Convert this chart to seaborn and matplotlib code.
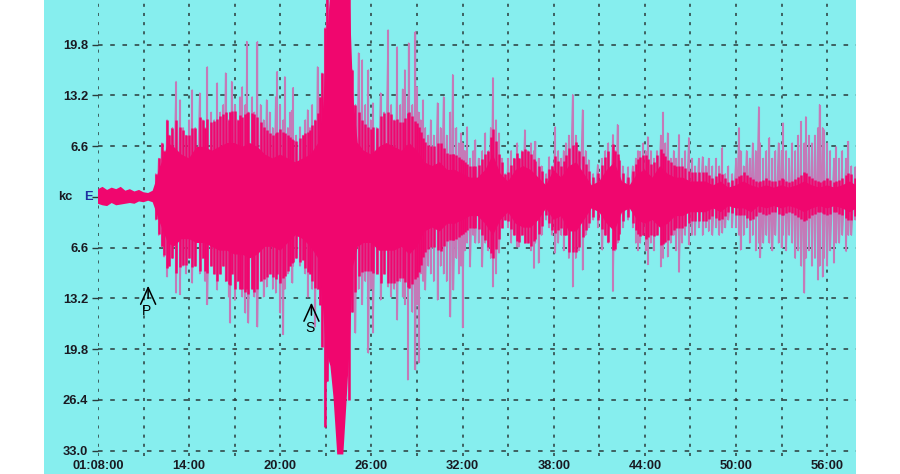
import matplotlib
matplotlib.use("Agg")
import matplotlib.pyplot as plt
import numpy as np
import pandas as pd
import seaborn as sns

# ---------------- data (minutes after 01:00:00, amplitude in kc) ----------------
core_t = [8.0, 8.3, 8.6, 8.9, 9.2, 9.5, 9.8, 10.1, 10.4, 10.7, 11.0, 11.3, 11.6, 11.8, 12.0,
          12.3, 12.6, 13.0, 13.5, 14.0, 14.5, 15.0, 15.5, 16.0, 16.5, 17.0, 17.5, 18.0, 18.5,
          19.0, 19.5, 20.0, 20.5, 21.0, 21.5, 22.0, 22.5, 22.8, 23.0, 23.3, 23.5, 23.75, 24.0,
          24.15, 24.35, 24.55, 24.8, 25.1, 25.5, 26.0, 26.5, 27.0, 27.5, 28.0, 28.5, 29.0,
          29.5, 30.0, 30.5, 31.0, 31.5, 32.0, 32.5, 33.0, 33.5, 34.0, 34.5, 35.0, 35.5, 36.0,
          36.5, 37.0, 37.5, 38.0, 38.5, 39.0, 39.5, 40.0, 40.5, 41.0, 41.5, 42.0, 42.5, 43.0,
          43.5, 44.0, 44.5, 45.0, 45.5, 46.0, 46.5, 47.0, 47.5, 48.0, 48.5, 49.0, 49.5, 50.0,
          50.5, 51.0, 51.5, 52.0, 52.5, 53.0, 53.5, 54.0, 54.5, 55.0, 55.5, 56.0, 56.5, 57.0,
          57.5, 57.9]
core_hi = [1.0, 1.3, 0.9, 1.2, 1.0, 1.3, 0.8, 1.0, 0.7, 0.9, 0.6, 0.5, 0.8, 2.0, 3.5,
           5.0, 7.0, 6.5, 5.5, 5.0, 6.5, 6.5, 6.0, 6.5, 7.0, 7.0, 6.5, 7.0, 6.5,
           5.5, 5.0, 5.5, 5.0, 4.5, 5.0, 5.5, 7.0, 11.0, 18.0, 27.0, 30.0, 30.0, 30.0,
           30.0, 30.0, 27.0, 13.0, 7.0, 6.0, 5.5, 6.5, 7.0, 6.5, 6.0, 7.0, 6.0,
           4.5, 4.0, 4.5, 3.5, 3.5, 3.0, 2.5, 2.5, 3.5, 5.5, 3.0, 2.0, 3.5, 4.0,
           3.5, 2.5, 1.5, 3.5, 2.5, 4.0, 4.5, 3.0, 1.5, 2.0, 3.5, 4.5, 2.0, 1.5,
           3.0, 3.5, 2.5, 4.0, 3.0, 2.5, 2.5, 2.0, 2.0, 2.0, 1.5, 2.0, 1.2, 1.5,
           2.0, 1.5, 1.2, 1.5, 1.2, 1.5, 1.2, 1.5, 2.0, 1.5, 1.2, 1.5, 1.2, 1.5,
           2.0, 1.5]
core_lo = [-0.9, -1.1, -1.2, -0.8, -1.1, -1.0, -0.9, -0.8, -0.9, -0.6, -0.7, -0.5, -0.7, -1.8, -3.0,
           -4.5, -6.0, -6.5, -5.5, -5.5, -6.0, -6.0, -6.5, -7.0, -7.0, -7.5, -7.5, -8.0, -7.5,
           -6.5, -6.5, -7.0, -6.0, -5.0, -5.5, -6.5, -8.0, -14.0, -20.0, -22.0, -26.0, -33.5, -33.5,
           -33.5, -27.0, -20.0, -9.0, -6.5, -6.0, -6.0, -7.0, -7.0, -7.0, -6.5, -7.5, -6.5,
           -4.5, -4.0, -4.5, -3.5, -3.5, -3.0, -2.5, -2.5, -3.5, -5.0, -3.0, -2.0, -3.5, -4.0,
           -4.0, -3.0, -1.5, -3.0, -2.5, -4.5, -4.5, -3.0, -1.5, -2.0, -3.5, -4.5, -2.0, -1.5,
           -3.0, -3.5, -3.0, -4.0, -3.5, -2.5, -2.5, -2.0, -2.0, -2.0, -1.5, -2.0, -1.2, -1.5,
           -1.5, -2.0, -1.2, -1.5, -1.2, -1.5, -1.2, -1.5, -2.0, -1.5, -1.2, -1.5, -1.2, -1.5,
           -2.0, -1.5]

spike_t = [11.8, 12.0, 12.2, 12.35, 12.55, 12.7, 12.9, 13.14, 13.4, 13.6, 13.8, 14.0, 14.2, 14.4,
           14.7, 14.9, 15.05, 15.2, 15.45, 15.65, 15.85, 16.05, 16.25, 16.4, 16.6, 16.7, 16.8,
           17.0, 17.2, 17.35, 17.5, 17.7, 17.8, 17.9, 18.15, 18.3, 18.5, 18.7, 18.9, 19.1, 19.3,
           19.5, 19.7, 19.8, 20.0, 20.2, 20.3, 20.5, 20.65, 20.8, 20.85, 21.05, 21.3, 21.5, 21.65,
           21.8, 21.95, 22.1, 22.3, 22.45, 22.6, 22.75, 22.96, 23.1,
           24.5, 24.75, 24.95, 25.15, 25.4, 25.6, 25.8, 25.95, 26.1, 26.35, 26.6, 26.85, 27.1,
           27.3, 27.5, 27.7, 27.9, 28.05, 28.2, 28.4, 28.45, 28.7, 28.9, 29.0, 29.1, 29.25, 29.4,
           29.55, 29.75, 29.9, 30.1, 30.35, 30.55, 30.75, 30.95, 31.2, 31.35, 31.4, 31.6, 31.75,
           31.9, 32.0, 32.15, 32.3, 32.5, 32.7, 32.85, 33.05, 33.3, 33.5, 33.7, 33.85, 34.0, 34.2,
           34.4, 34.6, 34.8, 35.0, 35.2, 35.4, 35.6, 35.7, 35.9, 36.1, 36.3, 36.5, 36.7, 36.8,
           37.0, 37.2, 37.5, 37.7, 37.9, 38.1, 38.3, 38.5, 38.65, 38.8, 39.0, 39.25, 39.45, 39.65,
           39.9, 40.1, 40.3, 40.6, 40.9, 41.2, 41.4, 41.6, 41.9, 42.05, 42.2, 42.3, 42.55, 42.9,
           43.2, 43.4, 43.55, 43.7, 43.9, 44.05, 44.2, 44.4, 44.6, 44.8, 45.05, 45.2, 45.35, 45.5,
           45.7, 45.9, 46.05, 46.25, 46.45, 46.65, 46.9, 47.1, 47.3, 47.55, 47.8, 48.0, 48.2,
           48.45, 48.7, 48.9, 49.1, 49.3, 49.5, 49.75, 50.0, 50.2, 50.3, 50.5, 50.7, 50.9, 51.1,
           51.3, 51.5, 51.6, 51.8, 52.0, 52.2, 52.4, 52.6, 52.8, 53.0, 53.1, 53.3, 53.5, 53.7,
           53.9, 54.1, 54.3, 54.5, 54.6, 54.8, 55.0, 55.2, 55.4, 55.5, 55.7, 55.8, 56.0, 56.2,
           56.45, 56.6, 56.8, 57.0, 57.25, 57.4, 57.6, 57.85]
spike_hi = [3, 5, 7, 6, 10, 8, 9, 15, 12.6, 9, 8, 10, 13.9, 9,
            13.5, 10, 9, 16.9, 11, 10, 14.8, 11, 12, 16.1, 10, 11, 15,
            12, 10, 13, 14.3, 12, 20.2, 11, 13, 11, 20.2, 12, 10, 12.6, 11,
            9, 13, 16.3, 12, 10, 15.6, 9, 11, 11.3, 14.2, 8, 9.1, 8, 10,
            11.3, 9, 12, 10, 16.9, 13, 16.1, 22, 30,
            28, 16.5, 12, 18.7, 17.8, 12, 16.5, 10, 12.2, 9, 13.5, 11, 21.7,
            12, 10, 19.5, 12, 14, 16.5, 13, 20, 12, 21.5, 14.3, 11, 10, 12.6,
            9, 8, 10, 8, 12.2, 9, 13, 8, 11, 15.9, 9, 9, 7,
            8.3, 7, 6, 9.1, 5, 6, 7.4, 5, 6, 8.3, 6, 9, 15.5, 10,
            8.3, 5, 3, 5, 6, 5, 7, 5, 6, 8.7, 6, 7, 6, 7.2,
            5, 4, 3, 5.2, 4, 9.1, 6, 5, 6, 7, 8, 13.3, 8, 6,
            11.3, 6, 4.8, 3, 4.2, 5, 6, 7, 8.1, 6, 9.4, 5, 4, 3.9,
            4, 5, 6, 5.9, 7, 6, 7.8, 6, 5, 6, 8, 11, 7, 8.3,
            5, 6, 5, 8.1, 5, 6, 7.7, 5, 4, 5, 5.2, 4, 5,
            4, 5, 4, 6.4, 3, 4, 3, 5, 9.0, 6, 4, 6, 5, 7,
            6, 11.7, 7, 5, 6, 7.7, 5, 6, 7, 6, 9.6, 6, 5, 7,
            6, 8, 9.8, 7, 10.4, 8, 7, 8, 9, 12.0, 9, 8.7, 7, 6,
            5, 6.5, 5, 6, 5, 7.2, 4, 3.9]
spike_lo = [-3, -5, -6.5, -7.8, -10.4, -9, -8, -12.5, -12.7, -9, -10, -8, -11.2, -9,
            -10, -8, -11, -14, -9, -10, -12.1, -10, -9, -11, -13, -16.4, -10,
            -13.4, -11, -12, -13, -15.1, -12, -16.4, -12, -13, -16.9, -11, -13, -11.7, -10,
            -12, -12.5, -10, -15.1, -17.9, -12, -10, -9, -11.2, -9, -8, -9, -8.2, -10,
            -13, -10, -12, -16.9, -12, -14, -19.5, -29.9, -24,
            -26.4, -15, -17.7, -12, -14, -11, -20.3, -12, -17.7, -10, -13.4, -10, -11.7,
            -13, -12, -16, -11, -13, -14, -23.8, -12, -15, -22.5, -14, -21.6, -10, -11,
            -12.1, -9, -10, -11, -13.4, -9, -10, -11, -15.6, -9, -12.1, -8, -10,
            -9, -17, -7, -6, -9.1, -5, -6, -6, -9.1, -6, -7, -8, -11.7, -10,
            -7.3, -4, -3, -4, -6, -5, -6.5, -6.5, -5, -6, -6, -7, -9.3, -6,
            -8.6, -5, -3, -4, -5, -7.3, -6, -5, -7, -5, -8, -11.7, -8, -7,
            -9.5, -5, -4, -3, -4, -6.9, -5, -6, -12.3, -7, -6, -5.6, -4, -3,
            -4, -6, -7, -6, -5, -7, -8.8, -6, -7, -5, -9.1, -8, -6, -7.8,
            -6, -5, -7, -9.8, -6, -5, -6.2, -5, -5, -4, -5, -4, -4.5,
            -5, -4, -5, -4.7, -4, -3, -4, -4, -5, -6.9, -5, -4, -6, -5,
            -7, -6, -7.9, -6, -5, -6, -7, -5, -6, -6.6, -5, -7, -5, -6,
            -8, -7, -9, -12.5, -8, -7, -9, -8, -10.8, -9, -10.4, -8, -9, -7,
            -8.6, -6, -6, -5, -7.1, -5, -5, -3]

ytick_vals = [19.8, 13.2, 6.6, 0.0, -6.6, -13.2, -19.8, -26.4, -33.0]
xtick_vals = [8, 14, 20, 26, 32, 38, 44, 50, 56]
xtick_labels = ["01:08:00", "14:00", "20:00", "26:00", "32:00", "38:00", "44:00", "50:00", "56:00"]
phase_names = ["P", "S"]
phase_t = [11.3, 22.05]
phase_v = [-11.2, -13.4]

assert len(core_t) == len(core_hi) == len(core_lo)
assert len(spike_t) == len(spike_hi) == len(spike_lo)

# ---------------- styling ----------------
CYAN = "#86EEEE"
PINK = "#F0066E"
MAUVE = "#C47AB8"
GRID = "#2A3A3A"
TXT = "#1A1A22"

sns.set_theme(style="white")
plt.rcParams["font.family"] = ["Liberation Sans", "DejaVu Sans"]

fig = plt.figure(figsize=(9, 4.74), dpi=100, facecolor="white")
bg = fig.add_axes([44 / 900, 0, (856 - 44) / 900, 1], zorder=-5)
bg.set_facecolor(CYAN)
bg.set_xticks([])
bg.set_yticks([])
for s in bg.spines.values():
    s.set_visible(False)

ax = fig.add_axes([98 / 900, 1 - 456 / 474, (856 - 98) / 900, 456 / 474], zorder=1)
ax.set_facecolor("none")
for s in ax.spines.values():
    s.set_visible(False)

# grid
for xv in np.arange(8, 58, 3):
    ax.axvline(xv, color=GRID, lw=1.1, ls=(0, (2, 4)), zorder=1)
for yv in ytick_vals:
    if yv != 0:
        ax.axhline(yv, color=GRID, lw=1.1, ls=(0, (3, 5)), zorder=1)

# spikes as a zig-zag trace (thin, mauve where antialiased on cyan)
zz_t, zz_v = [], []
for t, h, l in zip(spike_t, spike_hi, spike_lo):
    zz_t += [t, t]
    zz_v += [h, l]
trace = pd.DataFrame({"t": zz_t, "v": zz_v})
sns.lineplot(data=trace, x="t", y="v", sort=False, estimator=None, color=MAUVE, lw=1.0, ax=ax, zorder=2)
ax.vlines(spike_t, spike_lo, spike_hi, color=MAUVE, lw=1.5, zorder=2)

# saturated inner part of each swing
env_hi = np.interp(spike_t, core_t, core_hi)
env_lo = np.interp(spike_t, core_t, core_lo)
pink_hi = np.minimum(spike_hi, 1.6 * env_hi)
pink_lo = np.maximum(spike_lo, 1.6 * env_lo)
ax.vlines(spike_t, pink_lo, pink_hi, color=PINK, lw=1.8, zorder=3)

# dense core
ax.fill_between(core_t, core_lo, core_hi, color=PINK, lw=0, zorder=3)

ax.set_xlim(8, 57.9)
ax.set_ylim(-33.7, 25.6)
ax.set_xlabel("")
ax.set_ylabel("")
ax.set_xticks(xtick_vals)
ax.set_xticklabels(xtick_labels)
ax.set_yticks(ytick_vals)
ax.set_yticklabels(["" if v == 0 else f"{abs(v):.1f}" for v in ytick_vals])
ax.tick_params(axis="x", length=0, pad=3, labelsize=9.3, labelcolor=TXT)
ax.tick_params(axis="y", length=4, width=1, color=GRID, pad=3, labelsize=9.3, labelcolor=TXT, left=True)
for lab in ax.get_xticklabels() + ax.get_yticklabels():
    lab.set_fontweight("bold")

# channel label
fig.text(58 / 900, 1 - 197 / 474, "kc", fontsize=9.3, fontweight="bold", color=TXT, va="center", ha="left")
fig.text(84 / 900, 1 - 197 / 474, "E", fontsize=9.3, fontweight="bold", color="#1F2FA0", va="center", ha="left")

# phase arrivals
for name, t, v in zip(phase_names, phase_t, phase_v):
    ax.annotate("", xy=(t, v), xytext=(0, -13), textcoords="offset points",
                arrowprops=dict(arrowstyle="->,head_length=1.0,head_width=0.45", color="black", lw=1.1),
                zorder=5)
    ax.annotate(name, xy=(t, v), xytext=(-1, -20), textcoords="offset points",
                ha="center", va="center", fontsize=10, color="black", zorder=5)

fig.savefig("out.png", dpi=100, facecolor="white")
